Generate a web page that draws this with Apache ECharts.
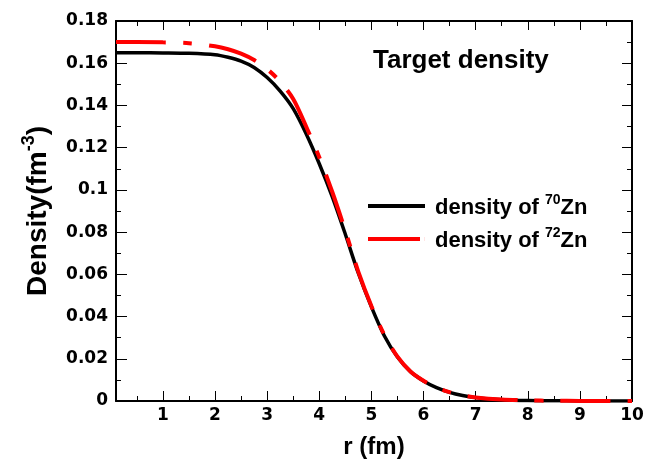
<!DOCTYPE html>
<html>
<head>
<meta charset="utf-8">
<script src="https://cdn.jsdelivr.net/npm/echarts@6/dist/echarts.min.js"></script>
<style>
  html, body { margin: 0; padding: 0; background: #fff; }
  #chart { width: 657px; height: 465px; }
</style>
</head>
<body>
<div id="chart"></div>
<script>
// r (fm) sample points
var rValues = [0.1, 0.5, 1.0, 1.5, 2.0, 2.25, 2.5, 2.75, 3.0, 3.25, 3.5, 3.75, 4.0, 4.25, 4.5, 4.75, 5.0, 5.25, 5.5, 5.75, 6.0, 6.25, 6.5, 6.75, 7.0, 7.5, 8.0, 8.5, 9.0, 9.5, 10.0];
// density of 70Zn (fm^-3)
var rho70 = [0.1650, 0.1650, 0.1649, 0.1647, 0.1640, 0.1628, 0.1610, 0.1580, 0.1532, 0.1468, 0.1385, 0.1265, 0.1124, 0.0967, 0.0790, 0.0605, 0.0446, 0.0308, 0.0208, 0.0139, 0.0095, 0.0063, 0.0041, 0.0026, 0.0016, 0.0006, 0.0002, 0.0001, 0.00003, 0.00001, 0.0];
// density of 72Zn (fm^-3)
var rho72 = [0.1700, 0.1700, 0.1699, 0.1695, 0.1680, 0.1666, 0.1645, 0.1615, 0.1572, 0.1513, 0.1430, 0.1299, 0.1155, 0.0990, 0.0806, 0.0612, 0.0450, 0.0312, 0.0210, 0.0140, 0.0096, 0.0064, 0.0042, 0.0027, 0.0017, 0.0007, 0.0003, 0.0001, 0.00004, 0.00001, 0.0];

var xMajor = [1, 2, 3, 4, 5, 6, 7, 8, 9, 10];
var xMinor = [0.5, 1.5, 2.5, 3.5, 4.5, 5.5, 6.5, 7.5, 8.5, 9.5];

var FONT = 'Liberation Sans';
var TICKFONT = 'DejaVu Sans';

var chart = echarts.init(document.getElementById('chart'));

function pairs(ys) {
    return rValues.map(function(r, i) { return [r, ys[i]]; });
}

var lineAxis = { show: true, lineStyle: { color: '#000', width: 2 } };

var option = {
    animation: false,
    grid: { left: 116, right: 25, top: 21, bottom: 64, containLabel: false },
    xAxis: [
        {
            type: 'value', position: 'bottom', min: 0.1, max: 10,
            axisLine: lineAxis,
            axisTick: { inside: true, length: 10, customValues: xMajor, lineStyle: { color: '#000', width: 1 } },
            axisLabel: { customValues: xMajor, margin: 6, color: '#000', fontFamily: TICKFONT, fontWeight: 'bold', fontSize: 17 },
            splitLine: { show: false },
            name: 'r (fm)', nameLocation: 'middle', nameGap: 34,
            nameTextStyle: { color: '#000', fontFamily: FONT, fontWeight: 'bold', fontSize: 24 }
        },
        {
            type: 'value', position: 'bottom', min: 0.1, max: 10,
            axisLine: { show: false },
            axisTick: { inside: true, length: 5, customValues: xMinor, lineStyle: { color: '#000', width: 1 } },
            axisLabel: { show: false },
            splitLine: { show: false }
        },
        {
            type: 'value', position: 'top', min: 0.1, max: 10,
            axisLine: lineAxis,
            axisTick: { inside: true, length: 9, customValues: xMajor, lineStyle: { color: '#000', width: 1 } },
            axisLabel: { show: false },
            splitLine: { show: false }
        },
        {
            type: 'value', position: 'top', min: 0.1, max: 10,
            axisLine: { show: false },
            axisTick: { inside: true, length: 5, customValues: xMinor, lineStyle: { color: '#000', width: 1 } },
            axisLabel: { show: false },
            splitLine: { show: false }
        }
    ],
    yAxis: [
        {
            type: 'value', position: 'left', min: 0, max: 0.18, interval: 0.02,
            axisLine: lineAxis,
            axisTick: { inside: true, length: 11, lineStyle: { color: '#000', width: 1 } },
            minorTick: { show: true, splitNumber: 2, length: 5, lineStyle: { color: '#000', width: 1 } },
            axisLabel: { margin: 8, color: '#000', fontFamily: TICKFONT, fontWeight: 'bold', fontSize: 17 },
            splitLine: { show: false },
            name: '{t|Density(fm}{s|-3}{t|)}', nameLocation: 'middle', nameGap: 64, nameRotate: 90,
            nameTextStyle: {
                color: '#000', fontFamily: FONT, fontWeight: 'bold', fontSize: 28,
                rich: {
                    t: { color: '#000', fontFamily: FONT, fontWeight: 'bold', fontSize: 28, verticalAlign: 'bottom', lineHeight: 32 },
                    s: { color: '#000', fontFamily: FONT, fontWeight: 'bold', fontSize: 18, verticalAlign: 'top', lineHeight: 18 }
                }
            }
        },
        {
            type: 'value', position: 'right', min: 0, max: 0.18, interval: 0.02,
            axisLine: lineAxis,
            axisTick: { inside: true, length: 10, lineStyle: { color: '#000', width: 1 } },
            minorTick: { show: true, splitNumber: 2, length: 5, lineStyle: { color: '#000', width: 1 } },
            axisLabel: { show: false },
            splitLine: { show: false }
        }
    ],
    legend: {
        left: 363, top: 188, orient: 'vertical', itemGap: 7,
        itemWidth: 57, itemHeight: 4,
        data: [
            { name: 'density of 70Zn', icon: 'rect' },
            { name: 'density of 72Zn', icon: 'path://M0,0H52V4H0ZM56.9,0H57V4H56.9Z' }
        ],
        formatter: function(name) {
            var m = name.match(/^(density of )(\d+)(Zn)$/);
            return '{t|' + m[1] + '}{s|' + m[2] + '}{t|' + m[3] + '}';
        },
        textStyle: {
            padding: [0, 0, 0, 5],
            rich: {
                t: { color: '#000', fontFamily: FONT, fontWeight: 'bold', fontSize: 22, verticalAlign: 'bottom', lineHeight: 26 },
                s: { color: '#000', fontFamily: FONT, fontWeight: 'bold', fontSize: 14, verticalAlign: 'top', lineHeight: 14 }
            }
        }
    },
    graphic: [
        {
            type: 'text', left: 373, top: 48,
            style: { text: 'Target density', fill: '#000', font: 'bold 26px "Liberation Sans"' }
        }
    ],
    series: [
        {
            name: 'density of 70Zn', type: 'line', xAxisIndex: 0, yAxisIndex: 0,
            data: pairs(rho70), showSymbol: false, symbol: 'none',
            smooth: 0.3,
            lineStyle: { color: '#000', width: 3.5 },
            itemStyle: { color: '#000' }
        },
        {
            name: 'density of 72Zn', type: 'line', xAxisIndex: 0, yAxisIndex: 0,
            data: pairs(rho72), showSymbol: false, symbol: 'none',
            smooth: 0.3,
            lineStyle: { color: '#ff0000', width: 4, type: [50, 17, 9, 17] },
            itemStyle: { color: '#ff0000' }
        }
    ]
};

chart.setOption(option);
</script>
</body>
</html>
